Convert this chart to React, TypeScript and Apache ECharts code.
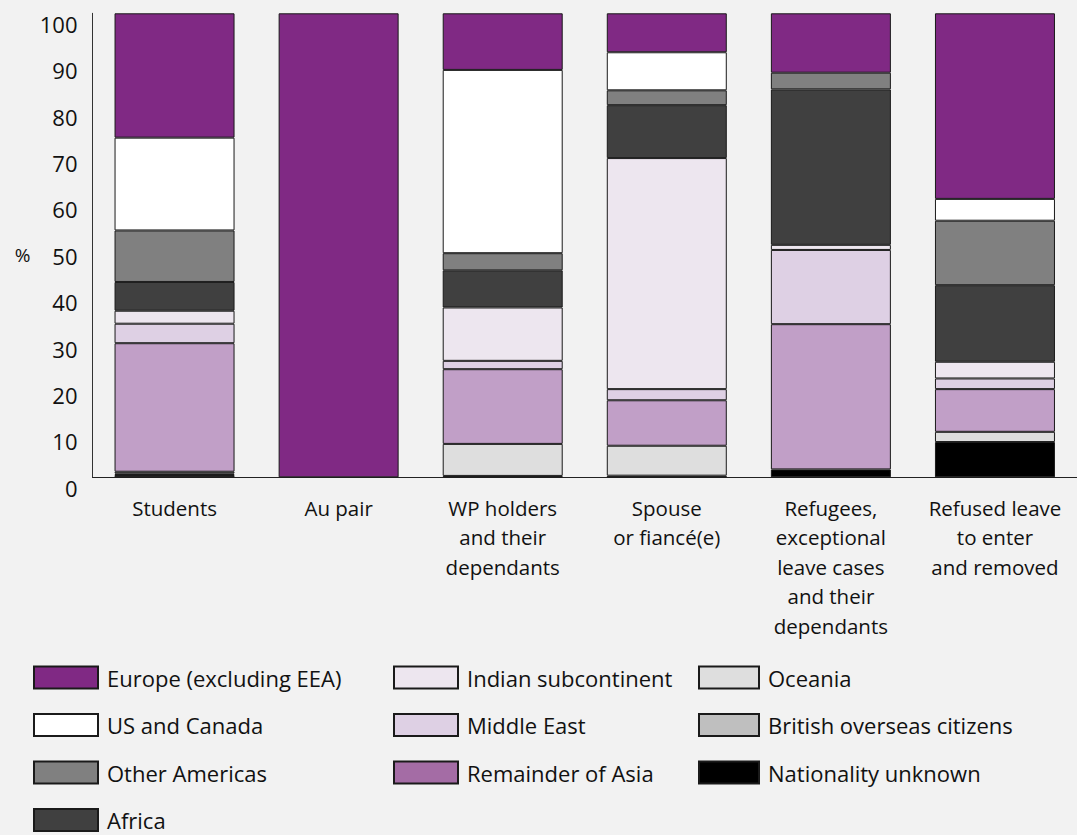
import React, { useEffect, useRef } from "react";
import * as echarts from "echarts";

const categories = [
  "Students",
  "Au pair",
  "WP holders\nand their\ndependants",
  "Spouse\nor fiancé(e)",
  "Refugees,\nexceptional\nleave cases\nand their\ndependants",
  "Refused leave\nto enter\nand removed",
];

const nationalityUnknown = [0.5, 0, 0.3, 0.35, 1.7, 7.6];
const britishOverseas = [0.3, 0, 0, 0, 0, 0];
const oceania = [0.4, 0, 6.9, 6.45, 0, 2.2];
const remainderOfAsia = [27.7, 0, 16.1, 9.8, 31.3, 9.2];
const middleEast = [4.2, 0, 1.8, 2.4, 16.0, 2.3];
const indianSubcontinent = [2.8, 0, 11.5, 49.8, 1.1, 3.6];
const africa = [6.2, 0, 8.0, 11.4, 33.5, 16.5];
const otherAmericas = [11.1, 0, 3.7, 3.2, 3.6, 13.9];
const usCanada = [20.0, 0, 39.5, 8.2, 0, 4.7];
const europe = [26.8, 100, 12.2, 8.4, 12.8, 40.0];

const seriesDefs = [
  { name: "Nationality unknown", data: nationalityUnknown, color: "#000000" },
  { name: "British overseas citizens", data: britishOverseas, color: "#bfbfbf" },
  { name: "Oceania", data: oceania, color: "#dedede" },
  { name: "Remainder of Asia", data: remainderOfAsia, color: "#a46ca5", barColor: "#c19fc7" },
  { name: "Middle East", data: middleEast, color: "#ded0e4" },
  { name: "Indian subcontinent", data: indianSubcontinent, color: "#ede6ef" },
  { name: "Africa", data: africa, color: "#404040" },
  { name: "Other Americas", data: otherAmericas, color: "#808080" },
  { name: "US and Canada", data: usCanada, color: "#ffffff" },
  { name: "Europe (excluding EEA)", data: europe, color: "#802984" },
];

const legendCol1 = ["Europe (excluding EEA)", "US and Canada", "Other Americas", "Africa"];
const legendCol2 = ["Indian subcontinent", "Middle East", "Remainder of Asia"];
const legendCol3 = ["Oceania", "British overseas citizens", "Nationality unknown"];

const FONT = "'Open Sans', 'Noto Sans', sans-serif";

export default function App() {
  const ref = useRef<HTMLDivElement>(null);
  useEffect(() => {
    document.body.style.margin = "0";
    const chart = echarts.init(ref.current!, null, { renderer: "svg" });
    const legendBase = (left: number, data: string[], itemWidth: number) => ({
      left,
      top: 665.5,
      height: 200,
      padding: 0,
      orient: "vertical",
      itemWidth,
      itemHeight: 22,
      itemGap: 23.5,
      data,
      selectedMode: false,
      icon: "rect",
      textStyle: {
        fontFamily: FONT,
        fontSize: 22,
        lineHeight: 22,
        color: "#111",
        padding: [0, 0, 0, 4],
      },
    });
    chart.setOption({
      animation: false,
      backgroundColor: "#f2f2f2",
      grid: { left: 92.5, top: 13.3, width: 993.6, height: 464 },
      legend: [
        legendBase(33, legendCol1, 64),
        legendBase(393, legendCol2, 64),
        legendBase(698, legendCol3, 60),
      ],
      xAxis: {
        type: "category",
        data: categories,
        axisLine: { lineStyle: { color: "#222", width: 1 } },
        axisTick: { show: false },
        axisLabel: {
          fontFamily: FONT,
          fontSize: 20.5,
          lineHeight: 29.5,
          color: "#111",
          margin: 15.5,
          interval: 0,
        },
      },
      yAxis: {
        type: "value",
        min: 0,
        max: 100,
        interval: 10,
        name: "%",
        nameLocation: "middle",
        nameRotate: 0,
        nameGap: 62,
        nameTextStyle: {
          fontFamily: FONT,
          fontSize: 19,
          color: "#111",
          verticalAlign: "top",
          lineHeight: 20,
        },
        axisLine: { show: true, lineStyle: { color: "#333", width: 1 } },
        axisTick: { show: false },
        splitLine: { show: false },
        axisLabel: {
          fontFamily: FONT,
          fontSize: 22,
          lineHeight: 21,
          verticalAlign: "top",
          color: "#111",
          margin: 15,
        },
      },
      series: seriesDefs.map((s) => ({
        name: s.name,
        type: "bar",
        stack: "total",
        barWidth: 120,
        itemStyle: { color: s.color, borderColor: "#1a1a1a", borderWidth: 1 },
        data: s.data.map((v) =>
          v === 0
            ? null
            : s.barColor
            ? { value: v, itemStyle: { color: s.barColor } }
            : v
        ),
      })),
    });
    return () => chart.dispose();
  }, []);
  return (
    <div
      ref={ref}
      style={{ position: "fixed", left: 0, top: 0, width: 1077, height: 835 }}
    />
  );
}
